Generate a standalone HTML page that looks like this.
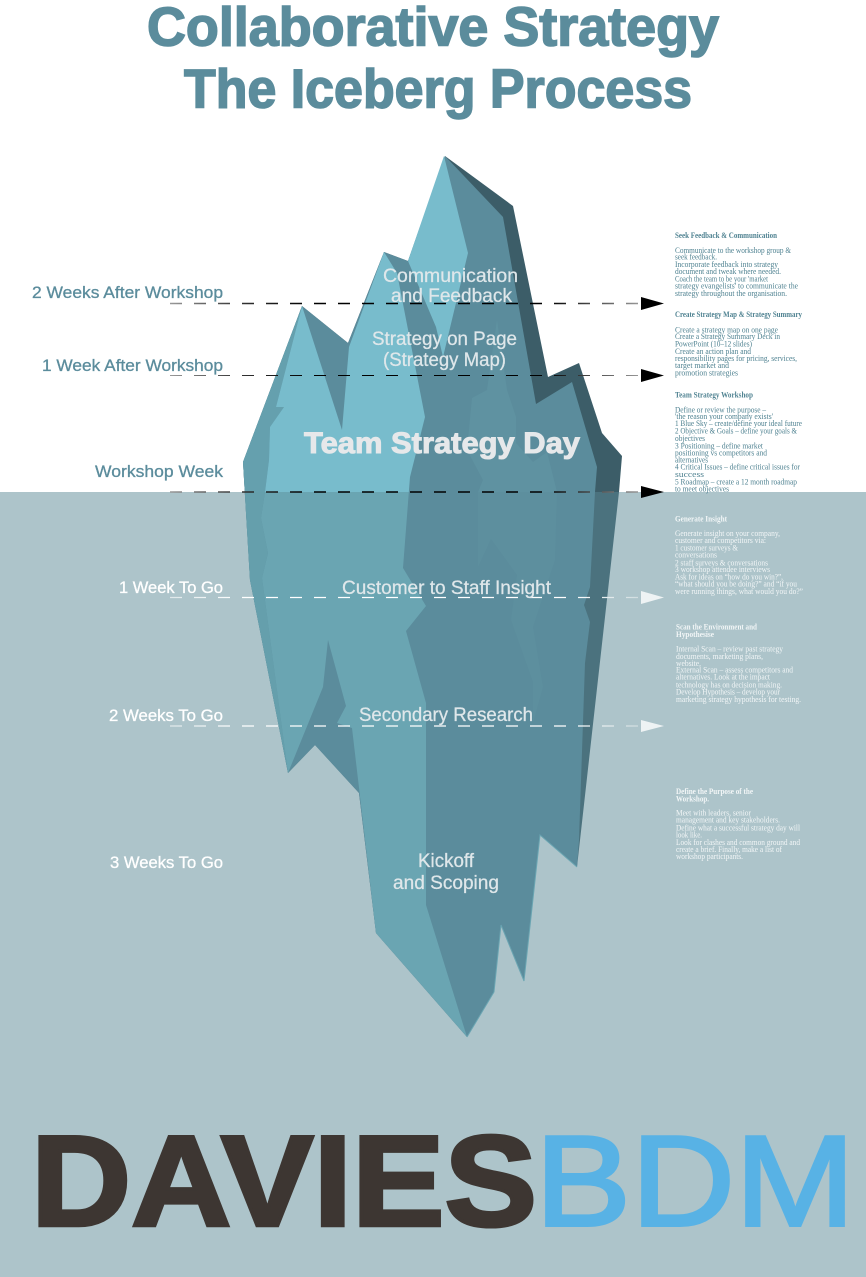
<!DOCTYPE html>
<html><head><meta charset="utf-8"><title>Collaborative Strategy - The Iceberg Process</title>
<style>
html,body{margin:0;padding:0;background:#fff}
svg{display:block}
text{font-family:"Liberation Sans",sans-serif}
.t{font-weight:bold;font-size:55px;fill:#5b8c9c;stroke:#5b8c9c;stroke-width:1.6px}
.l{font-size:17px;stroke-width:.3px}
.c{font-size:19px;fill:#dfe7ea;stroke:#dfe7ea;stroke-width:.25px}
.s text{font-family:"Liberation Serif",serif;font-size:8px}
.s .h{font-weight:bold}
.dk text{fill:#4f8291}
.wt text{fill:#f2f6f7}
</style></head>
<body>
<svg width="866" height="1277" viewBox="0 0 866 1277" xmlns="http://www.w3.org/2000/svg">
<defs>
<clipPath id="up"><rect x="0" y="0" width="866" height="492"/></clipPath>
<clipPath id="dn"><rect x="0" y="492" width="866" height="785"/></clipPath>
<linearGradient id="gk" gradientUnits="userSpaceOnUse" x1="170" y1="0" x2="640" y2="0">
<stop offset="0" stop-color="#999"/><stop offset=".15" stop-color="#333"/><stop offset=".3" stop-color="#000"/><stop offset=".8" stop-color="#000"/><stop offset="1" stop-color="#999"/></linearGradient>
<linearGradient id="gw" gradientUnits="userSpaceOnUse" x1="170" y1="0" x2="640" y2="0">
<stop offset="0" stop-color="#dfe8ea"/><stop offset=".15" stop-color="#fff"/><stop offset=".85" stop-color="#fff"/><stop offset="1" stop-color="#cfdcdf"/></linearGradient>
<g id="berg">
<polygon style="fill:var(--d)" points="445,156 513,206 548,377 579,363 602,433 622,456 619,492 577,867 540,835 524,981 501,925 494,992 467,1037 376,933 359,793 315,745 288,773 250,580 243,462 302,306 348,343 384,252 408,261"/>
<polygon style="fill:var(--m)" points="445,156 503,217 536,404 572,382 597,467 595,492 590,587 584,605 590,622 585,663 579,840 577,867 540,835 524,981 501,925 494,992 467,1037 376,933 359,793 315,745 288,773 250,580 243,462 302,306 348,343 384,252 408,261"/>
<polygon style="fill:var(--f)" points="497,320 507,390 516,417 516,443 533,462 547,452 557,492 555,560 533,627 543,687 533,723 533,757 533,682 511,620 517,575 491,539 478,567 478,492 483,480 467,450 472,398 487,390"/>
<polygon style="fill:var(--b)" points="302,306 243,462 250,580 288,773 262,578 268,553 261,518 265,492 269,460 270,427 284,407 276,407"/>
<polygon style="fill:var(--l)" points="302,306 342,430 349,347 384,252 397,273 425,417 410,477 403,568 426,606 406,631 426,703 426,905 467,1037 376,933 352,728 337,723 346,706 328,640 323,687 288,773 262,578 268,553 261,518 265,492 269,460 270,427 284,407 276,407"/>
<polygon style="fill:var(--l)" points="408,261 444,156 468,253 443,357 436,327"/>
</g>
</defs>
<rect x="0" y="0" width="866" height="1277" fill="#fff"/>
<rect x="0" y="492" width="866" height="785" fill="#adc4ca"/>
<g clip-path="url(#up)"><use href="#berg" style="--d:#3c5d68;--m:#5b8c9c;--f:#5f92a1;--b:#65a0ae;--l:#78bccc"/></g>
<g clip-path="url(#dn)"><use href="#berg" style="--d:#4b727e;--m:#5b8c9c;--f:#5d8f9e;--b:#659fac;--l:#6aa5b2"/></g>
<polyline points="577,867 540,835 524,981 501,925 494,992 467,1037" fill="none" stroke="#6aa5b2" stroke-width="1"/>

<text class="t" x="147" y="45.500" textLength="572" lengthAdjust="spacingAndGlyphs">Collaborative Strategy</text>
<text class="t" x="184" y="107.500" textLength="508" lengthAdjust="spacingAndGlyphs">The Iceberg Process</text>

<g fill="none" stroke-dasharray="12 12">
<line x1="170" y1="303.5" x2="640" y2="303.51" stroke="url(#gk)" stroke-width="1.6"/>
<line x1="170" y1="375.5" x2="640" y2="375.51" stroke="url(#gk)" stroke-width="1.1"/>
<line x1="170" y1="492" x2="640" y2="492.01" stroke="url(#gk)" stroke-width="1.6"/>
<line x1="170" y1="597.5" x2="640" y2="597.51" stroke="url(#gw)" stroke-width="1.2"/>
<line x1="170" y1="726" x2="640" y2="726.01" stroke="url(#gw)" stroke-width="1.2"/>
</g>
<polygon points="641,297 664,303.5 641,310" fill="#000"/>
<polygon points="641,369 664,375.5 641,382" fill="#000"/>
<polygon points="641,486 664,492 641,498" fill="#000"/>
<polygon points="641,591 664,597.5 641,604" fill="#eef3f4"/>
<polygon points="641,720 664,726 641,732" fill="#eef3f4"/>

<text class="l" fill="#5b8c9c" stroke="#5b8c9c" x="32" y="298" textLength="191" lengthAdjust="spacingAndGlyphs">2 Weeks After Workshop</text>
<text class="l" fill="#5b8c9c" stroke="#5b8c9c" x="42" y="371" textLength="181" lengthAdjust="spacingAndGlyphs">1 Week After Workshop</text>
<text class="l" fill="#5b8c9c" stroke="#5b8c9c" x="95" y="477" textLength="128" lengthAdjust="spacingAndGlyphs">Workshop Week</text>
<text class="l" fill="#fff" stroke="#fff" x="119" y="593" textLength="104" lengthAdjust="spacingAndGlyphs">1 Week To Go</text>
<text class="l" fill="#fff" stroke="#fff" x="109" y="721" textLength="114" lengthAdjust="spacingAndGlyphs">2 Weeks To Go</text>
<text class="l" fill="#fff" stroke="#fff" x="110" y="868" textLength="113" lengthAdjust="spacingAndGlyphs">3 Weeks To Go</text>

<text class="c" x="383" y="282" textLength="135" lengthAdjust="spacingAndGlyphs">Communication</text>
<text class="c" x="391" y="302" textLength="121" lengthAdjust="spacingAndGlyphs">and Feedback</text>
<text class="c" x="372" y="345" textLength="145" lengthAdjust="spacingAndGlyphs">Strategy on Page</text>
<text class="c" x="383" y="366" textLength="123" lengthAdjust="spacingAndGlyphs">(Strategy Map)</text>
<text x="304" y="453" font-size="30" font-weight="bold" fill="#e6e8ea" stroke="#e6e8ea" stroke-width="1" textLength="276" lengthAdjust="spacingAndGlyphs">Team Strategy Day</text>
<text class="c" x="342" y="594" textLength="209" lengthAdjust="spacingAndGlyphs">Customer to Staff Insight</text>
<text class="c" x="359" y="721" textLength="174" lengthAdjust="spacingAndGlyphs">Secondary Research</text>
<text class="c" x="418" y="867" textLength="56" lengthAdjust="spacingAndGlyphs">Kickoff</text>
<text class="c" x="393" y="889" textLength="106" lengthAdjust="spacingAndGlyphs">and Scoping</text>

<g class="s dk">
<text class="h" x="675" y="238" textLength="102" lengthAdjust="spacingAndGlyphs">Seek Feedback &amp; Communication</text>
<text x="675" y="253" textLength="116" lengthAdjust="spacingAndGlyphs">Communicate to the workshop group &amp;</text>
<text x="675" y="259.500" textLength="42" lengthAdjust="spacingAndGlyphs">seek feedback.</text>
<text x="675" y="267" textLength="103" lengthAdjust="spacingAndGlyphs">Incorporate feedback into strategy</text>
<text x="675" y="274" textLength="106" lengthAdjust="spacingAndGlyphs">document and tweak where needed.</text>
<text x="675" y="281.500" textLength="93" lengthAdjust="spacingAndGlyphs">Coach the team to be your 'market</text>
<text x="675" y="288.500" textLength="123" lengthAdjust="spacingAndGlyphs">strategy evangelists' to communicate the</text>
<text x="675" y="296" textLength="112" lengthAdjust="spacingAndGlyphs">strategy throughout the organisation.</text>

<text class="h" x="675" y="317" textLength="127" lengthAdjust="spacingAndGlyphs">Create Strategy Map &amp; Strategy Summary</text>
<text x="675" y="332.500" textLength="103" lengthAdjust="spacingAndGlyphs">Create a strategy map on one page</text>
<text x="675" y="339" textLength="105" lengthAdjust="spacingAndGlyphs">Create a Strategy Summary Deck in</text>
<text x="675" y="346.500" textLength="77" lengthAdjust="spacingAndGlyphs">PowerPoint (10–12 slides)</text>
<text x="675" y="354" textLength="76" lengthAdjust="spacingAndGlyphs">Create an action plan and</text>
<text x="675" y="361" textLength="122" lengthAdjust="spacingAndGlyphs">responsibility pages for pricing, services,</text>
<text x="675" y="368" textLength="54" lengthAdjust="spacingAndGlyphs">target market and</text>
<text x="675" y="375.500" textLength="63" lengthAdjust="spacingAndGlyphs">promotion strategies</text>

<text class="h" x="675" y="397.500" textLength="78" lengthAdjust="spacingAndGlyphs">Team Strategy Workshop</text>
<text x="675" y="412.500" textLength="91" lengthAdjust="spacingAndGlyphs">Define or review the purpose –</text>
<text x="675" y="419" textLength="98" lengthAdjust="spacingAndGlyphs">'the reason your company exists'</text>
<text x="675" y="426" textLength="127" lengthAdjust="spacingAndGlyphs">1 Blue Sky – create/define your ideal future</text>
<text x="675" y="433.500" textLength="122" lengthAdjust="spacingAndGlyphs">2 Objective &amp; Goals – define your goals &amp;</text>
<text x="675" y="441" textLength="30" lengthAdjust="spacingAndGlyphs">objectives</text>
<text x="675" y="448.500" textLength="88" lengthAdjust="spacingAndGlyphs">3 Positioning – define market</text>
<text x="675" y="455.500" textLength="92" lengthAdjust="spacingAndGlyphs">positioning vs competitors and</text>
<text x="675" y="462.500" textLength="33" lengthAdjust="spacingAndGlyphs">alternatives</text>
<text x="675" y="469.500" textLength="125" lengthAdjust="spacingAndGlyphs">4 Critical Issues – define critical issues for</text>
<text x="675" y="477" textLength="29" lengthAdjust="spacingAndGlyphs">success</text>
<text x="675" y="484.500" textLength="122" lengthAdjust="spacingAndGlyphs">5 Roadmap – create a 12 month roadmap</text>
<text x="675" y="491.500" textLength="54" lengthAdjust="spacingAndGlyphs">to meet objectives</text>
</g>

<g class="s wt">
<text class="h" x="675" y="521.500" textLength="52" lengthAdjust="spacingAndGlyphs">Generate Insight</text>
<text x="675" y="536" textLength="105" lengthAdjust="spacingAndGlyphs">Generate insight on your company,</text>
<text x="675" y="543" textLength="91" lengthAdjust="spacingAndGlyphs">customer and competitors via:</text>
<text x="675" y="550.500" textLength="63" lengthAdjust="spacingAndGlyphs">1 customer surveys &amp;</text>
<text x="675" y="557.500" textLength="42" lengthAdjust="spacingAndGlyphs">conversations</text>
<text x="675" y="565.500" textLength="93" lengthAdjust="spacingAndGlyphs">2 staff surveys &amp; conversations</text>
<text x="675" y="572" textLength="95" lengthAdjust="spacingAndGlyphs">3 workshop attendee interviews</text>
<text x="675" y="579.500" textLength="108" lengthAdjust="spacingAndGlyphs">Ask for ideas on “how do you win?”,</text>
<text x="675" y="586.500" textLength="122" lengthAdjust="spacingAndGlyphs">“what should you be doing?” and “if you</text>
<text x="675" y="594" textLength="128" lengthAdjust="spacingAndGlyphs">were running things, what would you do?”</text>

<text class="h" x="676" y="629.500" textLength="81" lengthAdjust="spacingAndGlyphs">Scan the Environment and</text>
<text class="h" x="676" y="637" textLength="38" lengthAdjust="spacingAndGlyphs">Hypothesise</text>
<text x="676" y="651.500" textLength="107" lengthAdjust="spacingAndGlyphs">Internal Scan – review past strategy</text>
<text x="676" y="659" textLength="87" lengthAdjust="spacingAndGlyphs">documents, marketing plans,</text>
<text x="676" y="666" textLength="25" lengthAdjust="spacingAndGlyphs">website.</text>
<text x="676" y="672.500" textLength="117" lengthAdjust="spacingAndGlyphs">External Scan – assess competitors and</text>
<text x="676" y="679.500" textLength="94" lengthAdjust="spacingAndGlyphs">alternatives. Look at the impact</text>
<text x="676" y="687.500" textLength="106" lengthAdjust="spacingAndGlyphs">technology has on decision making.</text>
<text x="676" y="694.500" textLength="104" lengthAdjust="spacingAndGlyphs">Develop Hypothesis – develop your</text>
<text x="676" y="702" textLength="125" lengthAdjust="spacingAndGlyphs">marketing strategy hypothesis for testing.</text>

<text class="h" x="676" y="794" textLength="77" lengthAdjust="spacingAndGlyphs">Define the Purpose of the</text>
<text class="h" x="676" y="801.500" textLength="33" lengthAdjust="spacingAndGlyphs">Workshop.</text>
<text x="676" y="815.500" textLength="75" lengthAdjust="spacingAndGlyphs">Meet with leaders, senior</text>
<text x="676" y="822.500" textLength="104" lengthAdjust="spacingAndGlyphs">management and key stakeholders.</text>
<text x="676" y="830.500" textLength="124" lengthAdjust="spacingAndGlyphs">Define what a successful strategy day will</text>
<text x="676" y="837.500" textLength="26" lengthAdjust="spacingAndGlyphs">look like.</text>
<text x="676" y="845" textLength="124" lengthAdjust="spacingAndGlyphs">Look for clashes and common ground and</text>
<text x="676" y="852" textLength="106" lengthAdjust="spacingAndGlyphs">create a brief. Finally, make a list of</text>
<text x="676" y="859" textLength="67" lengthAdjust="spacingAndGlyphs">workshop participants.</text>
</g>

<text x="31" y="1225.500" font-size="129" font-weight="bold" fill="#3d3632" stroke="#3d3632" stroke-width="3.5" textLength="506" lengthAdjust="spacingAndGlyphs">DAVIES</text>
<text x="535" y="1225.500" font-size="129" fill="#58b2e5" stroke="#58b2e5" stroke-width="3" textLength="320" lengthAdjust="spacingAndGlyphs">BDM</text>
</svg>
</body></html>
